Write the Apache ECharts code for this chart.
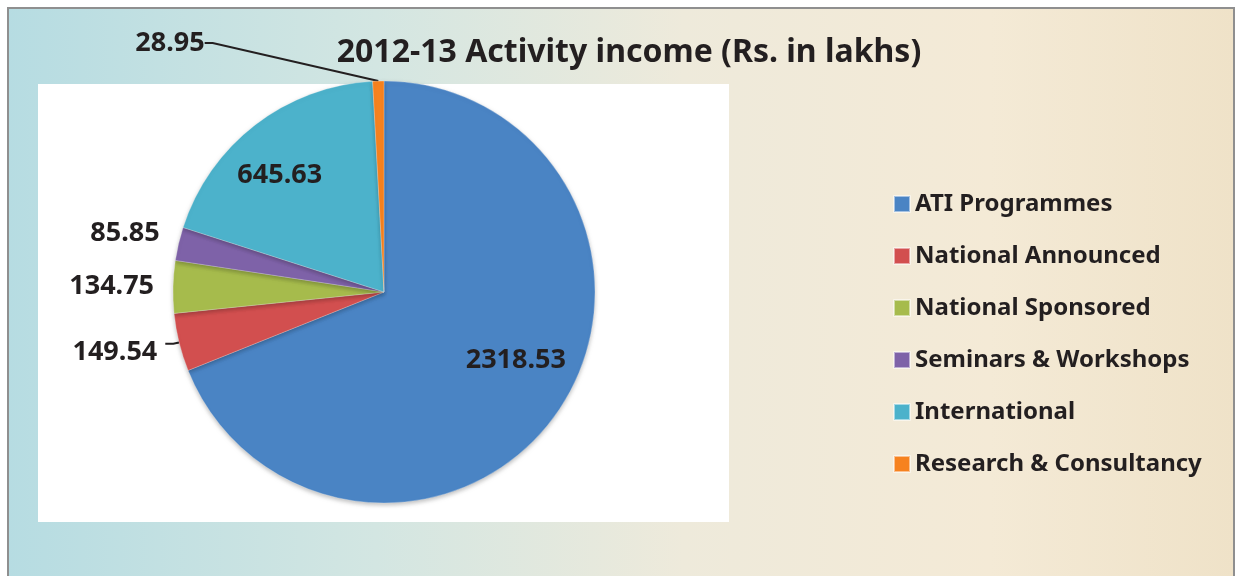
<!DOCTYPE html>
<html>
<head>
<meta charset="utf-8">
<script src="https://cdn.jsdelivr.net/npm/echarts@6/dist/echarts.min.js"></script>
<style>
  html, body { margin: 0; padding: 0; background: #fff; }
  #chart { width: 1235px; height: 576px; }
</style>
</head>
<body>
<div id="chart"></div>
<script>
// categories and values (Rs. in lakhs)
var categories = ['ATI Programmes', 'National Announced', 'National Sponsored', 'Seminars & Workshops', 'International', 'Research & Consultancy'];
var values = [2318.53, 149.54, 134.75, 85.85, 645.63, 28.95];
var colors = ['#4a84c4', '#d24f4f', '#a6bb4c', '#7e62a8', '#4cb2cb', '#f6821f'];

var FONT = 'Noto Sans';

// per slice label placement (inside / outside)
var labelPos = ['inside', 'outside', 'outside', 'outside', 'inside', 'outside'];

var chart = echarts.init(document.getElementById('chart'));

var pieData = categories.map(function (name, i) {
    var item = {
        name: name,
        value: values[i],
        itemStyle: { color: colors[i] },
        label: { position: labelPos[i] }
    };
    if (labelPos[i] == 'outside') {
        item.labelLine = { show: i == 1 || i == 5, length: 6, length2: 8 };
    }
    return item;
});

var option = {
    animation: false,
    graphic: [
        {
            type: 'rect', silent: true, z: -10,
            shape: { x: 8, y: 8, width: 1226, height: 570 },
            style: {
                fill: new echarts.graphic.LinearGradient(0, 0, 1, 0, [
                    { offset: 0, color: '#b6dce2' },
                    { offset: 0.3, color: '#d3e6e2' },
                    { offset: 0.55, color: '#eeeadb' },
                    { offset: 0.8, color: '#f4ead6' },
                    { offset: 1, color: '#efe2c8' }
                ]),
                stroke: '#8f8f8f', lineWidth: 2
            }
        },
        {
            type: 'rect', silent: true, z: -9,
            shape: { x: 38, y: 84, width: 691, height: 438 },
            style: { fill: '#ffffff' }
        }
    ],
    title: {
        text: '2012-13 Activity income (Rs. in lakhs)',
        left: 624,
        top: 32,
        textAlign: 'center',
        textStyle: { fontFamily: FONT, fontSize: 32, fontWeight: 'bold', color: '#231f20' }
    },
    legend: {
        orient: 'vertical',
        left: 888,
        top: 185,
        icon: 'rect',
        itemWidth: 16,
        itemHeight: 16,
        itemGap: 24,
        data: categories,
        textStyle: { fontFamily: FONT, fontSize: 24, fontWeight: 'bold', color: '#231f20', lineHeight: 28 }
    },
    series: [{
        type: 'pie',
        center: [384, 292],
        radius: 211,
        startAngle: 90,
        clockwise: true,
        avoidLabelOverlap: false,
        data: pieData,
        itemStyle: {
            borderColor: 'rgba(255,255,255,0.5)',
            borderWidth: 0.5,
            shadowColor: 'rgba(0,0,0,0.25)',
            shadowBlur: 4,
            shadowOffsetY: 2
        },
        label: {
            show: true,
            formatter: '{c}',
            fontFamily: FONT,
            fontSize: 27,
            fontWeight: 'bold',
            color: '#231f20'
        },
        labelLine: {
            lineStyle: { color: '#231f20', width: 2 }
        },
        labelLayout: function (params) {
            var i = params.dataIndex;
            if (i == 0) return { dx: 42, dy: 8 };
            if (i == 1) return { dx: -3, dy: 8 };
            if (i == 3) return { dy: -9 };
            if (i == 4) return { dx: -38, dy: -31 };
            if (i == 5) return { x: 170, y: 43, align: 'center', verticalAlign: 'middle' };
            return {};
        }
    }]
};

chart.setOption(option);
</script>
</body>
</html>
